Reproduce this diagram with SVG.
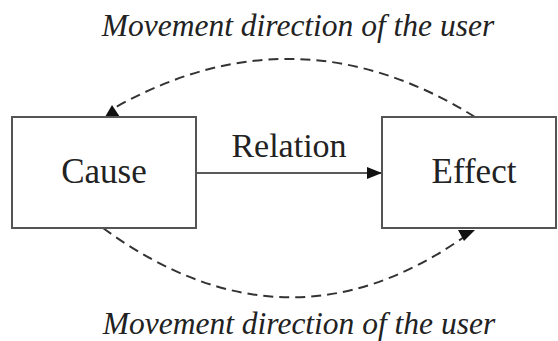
<svg xmlns="http://www.w3.org/2000/svg" width="558" height="341" viewBox="0 0 558 341">
<style>
.box{fill:#fff;stroke:#555;stroke-width:2}
.lbl{font-family:"Liberation Serif","Times New Roman",serif;font-size:35px;fill:#222;text-anchor:middle}
.cap{font-family:"Liberation Serif","Times New Roman",serif;font-size:31.5px;font-style:italic;fill:#222;text-anchor:middle}
.dash{fill:none;stroke:#333;stroke-width:2;stroke-dasharray:10 6}
.solid{fill:none;stroke:#222;stroke-width:1.6}
.head{fill:#111}
</style>
<defs>
<marker id="arr" markerUnits="userSpaceOnUse" markerWidth="16" markerHeight="12" refX="15" refY="6" orient="auto">
<path d="M0,0 L15,6 L0,12 Z" fill="#111"/>
</marker>
</defs>
<text class="cap" x="298" y="36">Movement direction of the user</text>
<text class="cap" x="299" y="334">Movement direction of the user</text>
<g id="connectors">
<path class="dash" d="M475,117 Q297,6 116,107"/>
<path class="dash" d="M103,228 Q286,362 464,237"/>
<line class="solid" x1="197" y1="173" x2="382" y2="173" marker-end="url(#arr)"/>
<polygon class="head" points="105,117 120,117 112,105"/>
<polygon class="head" points="458,230 475,230 464,241"/>
<text class="lbl" x="289" y="157" style="font-size:34px">Relation</text>
</g>
<g id="cause">
<rect class="box" x="12" y="117" width="184" height="111"/>
<text class="lbl" x="104" y="183">Cause</text>
</g>
<g id="effect">
<rect class="box" x="382" y="117" width="174" height="111"/>
<text class="lbl" x="474" y="183">Effect</text>
</g>
</svg>
